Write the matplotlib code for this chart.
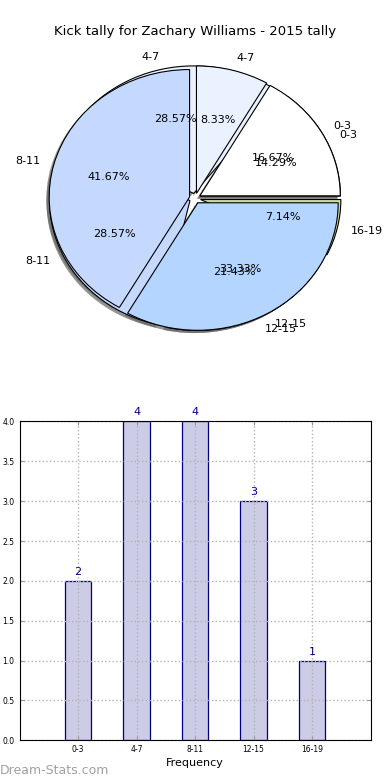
#!/usr/bin/env python3
"""
Kick tally chart: overlaid pie of two tallies on top, frequency bars below.
"""

import matplotlib
matplotlib.use("Agg")
import matplotlib.pyplot as plt

# data
bins_a = ['0-3', '4-7', '8-11', '12-15']
counts_a = [2, 1, 5, 4]

bins_b = ['0-3', '4-7', '8-11', '12-15', '16-19']
counts_b = [2, 4, 4, 3, 1]

bar_labels = ['0-3', '4-7', '8-11', '12-15', '16-19']
bar_values = [2, 4, 4, 3, 1]

title = 'Kick tally for Zachary Williams - 2015 tally'

pie_colors = ['#ffffff', '#eaf2ff', '#c5d9ff', '#b4d5ff', '#cddc9c']


def draw_pie(ax, counts, labels, colors):
    ax.pie(counts, labels=labels, colors=colors,
           explode=[0.04] * len(counts),
           autopct='%1.2f%%',
           shadow={'ox': -0.015, 'oy': -0.015, 'facecolor': '0.4', 'edgecolor': 'none', 'alpha': 0.7},
           wedgeprops={'edgecolor': 'black', 'linewidth': 0.8},
           textprops={'fontsize': 8})


fig = plt.figure(figsize=(3.9, 7.8), dpi=100)
fig.subplots_adjust(left=0.05, right=0.95, bottom=0.051, top=0.95, hspace=0.2)

# pie chart, second tally underneath, first tally on top
ax1 = fig.add_subplot(2, 1, 1)
draw_pie(ax1, counts_b, bins_b, pie_colors)
draw_pie(ax1, counts_a, bins_a, pie_colors[:4])
ax1.set_aspect('auto')
ax1.set_xlim(-1.25, 1.25)
ax1.set_ylim(-1.25, 1.25)
ax1.set_title(title, fontsize=9.5, pad=3)

# bar chart
ax2 = fig.add_subplot(2, 1, 2)
pos = list(range(len(bar_values)))
bars = ax2.bar(pos, bar_values, width=0.45, color='#ccccE6', edgecolor='#000080', linewidth=0.9)
for b, v in zip(bars, bar_values):
    ax2.text(b.get_x() + b.get_width() / 2, v + 0.05, str(v), ha='center', va='bottom',
             color='#000080', fontsize=8)
ax2.set_xlim(-1, 5)
ax2.set_ylim(0, 4)
ax2.set_xticks(pos)
ax2.set_xticklabels(bar_labels)
ax2.set_yticks([0, 0.5, 1, 1.5, 2, 2.5, 3, 3.5, 4])
ax2.set_yticklabels(['%.1f' % t for t in [0, 0.5, 1, 1.5, 2, 2.5, 3, 3.5, 4]])
ax2.tick_params(labelsize=5.5, direction='in', length=3, color='0.6', top=True, right=True)
ax2.grid(True, color='0.7', linestyle=':', linewidth=1)
ax2.set_axisbelow(False)
for sp in ax2.spines.values():
    sp.set_zorder(5)
ax2.set_xlabel('Frequency', fontsize=8, labelpad=3)

fig.text(0.0, 0.008, 'Dream-Stats.com', color='#a0a0a0', fontsize=9)

fig.savefig('out.png', dpi=100)
